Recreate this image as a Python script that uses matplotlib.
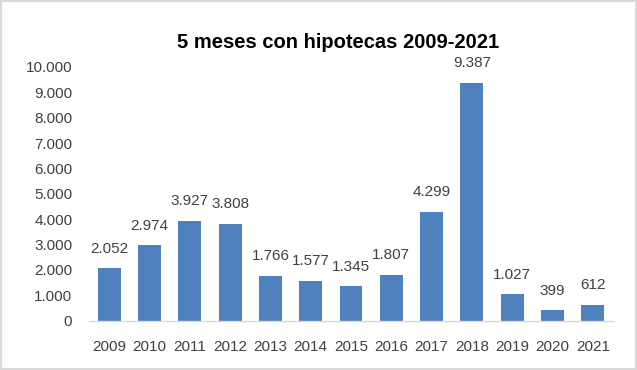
import matplotlib
matplotlib.use("Agg")
import matplotlib.pyplot as plt
from matplotlib.patches import Rectangle
from matplotlib.ticker import FuncFormatter

years = ["2009", "2010", "2011", "2012", "2013", "2014", "2015", "2016", "2017", "2018", "2019", "2020", "2021"]
values = [2052, 2974, 3927, 3808, 1766, 1577, 1345, 1807, 4299, 9387, 1027, 399, 612]
title = "5 meses con hipotecas 2009-2021"

plt.rcParams['font.family'] = ['Liberation Sans', 'DejaVu Sans']

def fmt(v):
    return f"{int(v):,}".replace(",", ".")

fig = plt.figure(figsize=(6.37, 3.70), dpi=100)
fig.patch.set_facecolor("white")
ax = fig.add_axes([89/637, 1-320.5/370, (613-89)/637, (320.5-67)/370])

x = list(range(len(years)))
ax.bar(x, values, width=0.57, color="#4F81BD", zorder=2)
ax.set_xlim(-0.5, len(years)-0.5)
ax.set_ylim(0, 10000)
ax.set_yticks(range(0, 10001, 1000))
ax.yaxis.set_major_formatter(FuncFormatter(lambda v, p: fmt(v)))
ax.set_xticks(x)
ax.set_xticklabels(years)

fs = 11
for s in ["top", "right", "left"]:
    ax.spines[s].set_visible(False)
ax.spines["bottom"].set_color("#D9D9D9")
ax.spines["bottom"].set_linewidth(1.0)
ax.tick_params(axis="both", length=0, colors="#404040", labelsize=fs)
ax.tick_params(axis="y", pad=12)
ax.tick_params(axis="x", pad=14)

for xi, v in zip(x, values):
    ax.annotate(fmt(v), (xi, v), xytext=(0, 9), textcoords="offset points",
                ha="center", va="bottom", fontsize=fs, color="#404040")

fig.text(338/637, 1-42/370, title, ha="center", va="center", fontsize=14.5,
         fontweight="bold", color="black")

fig.patches.append(Rectangle((0.0015, 0.0025), 0.997, 0.995, transform=fig.transFigure,
                             fill=False, edgecolor="#D9D9D9", linewidth=1.5))

fig.savefig("out.png", dpi=100)
